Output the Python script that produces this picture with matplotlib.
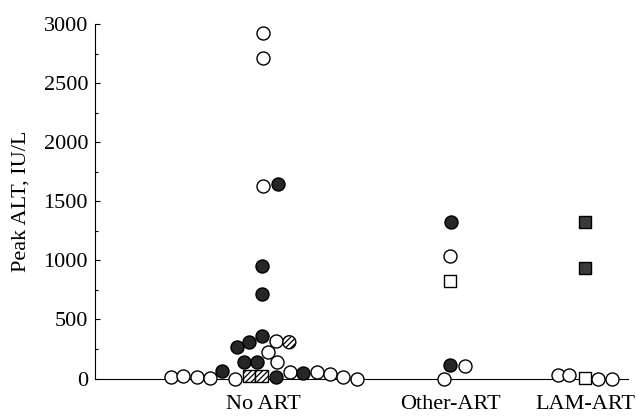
import numpy as np
import matplotlib
matplotlib.use('Agg')
import matplotlib.pyplot as plt

plt.rcParams['font.family'] = ['Liberation Serif', 'DejaVu Serif']
plt.rcParams['hatch.linewidth'] = 0.9

# categories and their centre on the x axis
categories = ['No ART', 'Other-ART', 'LAM-ART']
cat_pos = [1.0, 2.0, 2.72]

# open circles: category index, horizontal offset (dot-plot spread), peak ALT
open_cat = [0] * 16 + [1] * 3 + [2] * 4
open_dx = [-0.495, -0.428, -0.356, -0.285, -0.151, 0.143, 0.286, 0.357, 0.428, 0.503,
           0.068, 0.027, 0.072, 0.0, 0.0, 0.0,
           0.0, 0.077, -0.036,
           -0.147, -0.083, 0.071, 0.142]
open_alt = [10, 25, 15, 5, 0, 55, 55, 35, 15, 0,
            321, 222, 144, 2922, 2716, 1631,
            1040, 110, 0,
            34, 34, 0, 0]

# filled circles
filled_cat = [0] * 11 + [1] * 2
filled_dx = [-0.222, 0.068, 0.214, -0.142, -0.075, -0.009, -0.102, -0.032, 0.080, -0.005, -0.005,
             0.005, -0.004]
filled_alt = [65, 15, 45, 265, 307, 363, 138, 144, 1646, 949, 716,
              1321, 118]

# hatched circles
hatch_cat = [0]
hatch_dx = [0.139]
hatch_alt = [307]

# open squares
osq_cat = [1, 2]
osq_dx = [-0.004, 0.0]
osq_alt = [822, 6]

# filled squares
fsq_cat = [2, 2]
fsq_dx = [0.0, 0.0]
fsq_alt = [1321, 936]

# hatched squares
hsq_cat = [0, 0]
hsq_dx = [-0.076, -0.009]
hsq_alt = [20, 20]


def xs(cat, dx):
    return [cat_pos[c] + d for c, d in zip(cat, dx)]


fig = plt.figure(figsize=(6.37, 4.16), dpi=100)
ax = fig.add_axes([0.1491, 0.0901, 0.8368, 0.8522])

kw = dict(linewidths=1.0, edgecolors='black', clip_on=False, zorder=3)
ax.scatter(xs(open_cat, open_dx), open_alt, s=88, marker='o', facecolors='white', **kw)
ax.scatter(xs(hsq_cat, hsq_dx), hsq_alt, s=80, marker='s', facecolors='white', hatch='//////', **kw)
ax.scatter(xs(hatch_cat, hatch_dx), hatch_alt, s=88, marker='o', facecolors='white', hatch='//////', **kw)
ax.scatter(xs(filled_cat, filled_dx), filled_alt, s=88, marker='o', facecolors='#262626', **kw)
ax.scatter(xs(osq_cat, osq_dx), osq_alt, s=80, marker='s', facecolors='white', **kw)
ax.scatter(xs(fsq_cat, fsq_dx), fsq_alt, s=80, marker='s', facecolors='#3a3a3a', **kw)

ax.set_xlim(0.1, 2.95)
ax.set_ylim(0, 3000)
ax.set_yticks(np.arange(0, 3001, 500))
ax.set_yticks(np.arange(0, 3001, 250), minor=True)
ax.set_xticks(cat_pos)
ax.set_xticklabels(categories)

ax.tick_params(axis='y', direction='in', length=3.5, width=0.8, labelsize=16, pad=5)
ax.tick_params(axis='y', which='minor', direction='in', length=2.5, width=0.8)
ax.tick_params(axis='x', length=0, labelsize=16, pad=12)

ax.spines['top'].set_visible(False)
ax.spines['right'].set_visible(False)
for s in ['left', 'bottom']:
    ax.spines[s].set_linewidth(0.8)

ax.set_ylabel('Peak ALT, IU/L', fontsize=16, labelpad=9)

fig.savefig('out.png', dpi=100)
